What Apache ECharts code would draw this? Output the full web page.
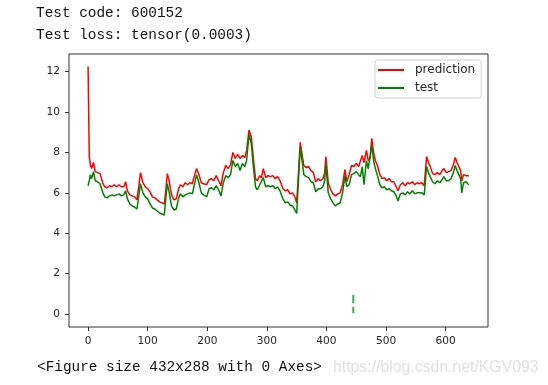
<!DOCTYPE html>
<html>
<head>
<meta charset="utf-8">
<script src="https://cdn.jsdelivr.net/npm/echarts@6/dist/echarts.min.js"></script>
<style>html,body{margin:0;padding:0;background:#fff}#c{width:548px;height:385px}</style>
</head>
<body>
<div id="c"></div>
<script>
const xIdx = [0,2,4,6,9,12,16,20,23,25,28,32,36,40,44,48,52,56,60,63,66,70,74,78,82,85,88,92,96,100,104,108,112,116,120,124,128,130,133,136,140,144,148,152,155,159,163,167,171,175,178,182,186,190,194,199,203,207,211,215,219,223,227,231,235,239,243,247,251,255,259,263,266,270,274,278,281,284,288,291,294,298,302,306,310,314,318,322,327,331,335,339,343,347,350,353,356,359,362,366,370,374,378,382,386,390,394,397,399,403,407,411,415,419,423,427,431,434,438,442,446,450,454,457,460,463,467,470,473,476,479,482,486,489,493,497,501,505,509,513,517,520,524,528,532,536,540,544,548,552,556,560,564,568,571,574,578,582,586,590,594,597,601,605,609,613,616,619,622,625,627,630,634,637,639];
const prediction = [12.25,7.8,7.35,7.2,7.5,7.05,7.0,6.95,7.0,6.45,6.3,6.25,6.35,6.3,6.4,6.3,6.4,6.3,6.3,6.55,6.1,5.9,5.85,5.8,5.65,5.6,7.0,6.5,6.3,6.2,6.05,5.8,5.75,5.65,5.55,5.5,5.45,6.0,6.95,6.6,5.9,5.65,5.7,6.2,6.4,6.3,6.5,6.4,6.5,6.45,6.8,7.2,6.9,6.5,6.45,6.4,6.65,6.7,6.6,6.85,6.6,6.35,7.0,7.35,7.2,7.4,8.0,7.7,7.9,7.7,7.85,7.75,8.1,9.1,8.75,7.5,6.7,6.6,6.85,6.75,7.2,6.75,6.85,6.8,6.85,6.7,6.8,6.6,6.2,6.1,6.15,5.95,6.0,5.8,5.5,7.0,8.5,7.9,7.35,7.25,7.3,7.1,7.0,6.55,6.7,6.6,6.7,7.0,7.8,6.5,6.15,5.95,5.85,5.95,6.0,6.4,7.15,6.55,6.9,7.35,7.3,7.45,7.3,7.25,7.85,7.5,8.1,7.6,7.7,8.7,8.0,7.6,7.3,6.95,6.7,6.75,6.6,6.7,6.55,6.55,6.3,6.1,6.4,6.5,6.35,6.5,6.45,6.55,6.4,6.5,6.45,6.5,6.35,7.8,7.5,7.3,6.95,6.9,7.0,6.9,7.1,7.2,7.0,7.05,7.1,7.4,7.75,7.5,7.3,7.1,6.6,6.9,6.85,6.9,6.85];
const test = [6.35,6.6,6.9,6.7,7.05,6.6,6.55,6.45,6.5,6.0,5.8,5.75,5.85,5.9,5.85,5.9,5.95,5.85,5.9,6.1,5.7,5.45,5.35,5.3,5.2,5.15,6.45,6.0,5.8,5.7,5.45,5.25,5.2,5.1,5.0,4.95,4.9,5.6,6.45,6.05,5.35,5.15,5.2,5.75,5.95,5.8,5.9,5.95,6.0,5.95,6.35,6.9,6.5,6.0,5.9,5.8,6.2,6.25,6.15,6.35,6.15,5.85,6.5,6.85,6.75,6.9,7.6,7.3,7.45,7.1,7.45,7.3,7.6,8.9,8.4,7.1,6.3,6.15,6.4,6.35,6.75,6.3,6.35,6.3,6.35,6.2,6.3,6.1,5.7,5.5,5.55,5.4,5.35,5.15,4.98,6.6,8.25,7.6,6.9,6.8,6.75,6.55,6.5,6.05,6.2,6.2,6.3,6.6,7.45,6.0,5.7,5.5,5.35,5.45,5.5,6.0,6.85,6.3,6.4,6.9,6.95,7.05,6.9,6.8,7.3,6.4,7.6,7.2,7.15,8.35,7.6,7.2,6.8,6.45,6.25,6.3,6.15,6.2,6.1,6.05,5.85,5.6,5.95,6.0,5.9,6.05,5.95,6.1,5.95,6.0,6.0,6.0,5.9,7.3,7.0,6.8,6.55,6.45,6.6,6.5,6.65,6.8,6.6,6.6,6.7,7.0,7.35,7.1,6.9,6.7,6.0,6.5,6.55,6.45,6.4];
const stray = [[445,0.05],[445,0.35],null,[445,0.55],[445,0.94]];
const xTicks = [0,100,200,300,400,500,600];
const yTicks = [0,2,4,6,8,10,12];
const seriesNames = ['prediction','test'];

const chart = echarts.init(document.getElementById('c'), null, {renderer:'canvas'});
const pair = arr => xIdx.map((x,i)=>[x,arr[i]]);
const monoFont = '14.4px "Liberation Mono", monospace';
chart.setOption({
  animation:false,
  backgroundColor:'#fff',
  grid:{left:69,right:60,top:54,bottom:58,show:true,borderColor:'#333',borderWidth:1,backgroundColor:'transparent'},
  xAxis:{type:'value',min:-32,max:671,
    axisLine:{show:false,onZero:false},splitLine:{show:false},
    axisTick:{show:true,inside:false,length:4,customValues:xTicks,lineStyle:{color:'#333'}},
    axisLabel:{customValues:xTicks,margin:9,color:'#262626',fontSize:10.6,fontFamily:'DejaVu Sans'}},
  yAxis:{type:'value',min:-0.64,max:12.87,
    axisLine:{show:false,onZero:false},splitLine:{show:false},
    axisTick:{show:true,inside:false,length:4,customValues:yTicks,lineStyle:{color:'#333'}},
    axisLabel:{customValues:yTicks,margin:9,color:'#262626',fontSize:10.6,fontFamily:'DejaVu Sans'}},
  legend:{orient:'vertical',left:375,top:60,data:seriesNames,icon:'rect',itemWidth:26,itemHeight:2,itemGap:6,
    padding:[4,6,4,3],borderColor:'#d0d0d0',borderWidth:1,borderRadius:3,backgroundColor:'#fff',
    textStyle:{fontFamily:'DejaVu Sans',fontSize:12,color:'#262626',padding:[0,0,0,6]}},
  series:[
    {name:'prediction',type:'line',data:pair(prediction),showSymbol:false,symbol:'none',lineStyle:{color:'#ff0000',width:1.5},itemStyle:{color:'#ff0000'}},
    {name:'test',type:'line',data:pair(test),showSymbol:false,symbol:'none',lineStyle:{color:'#008000',width:1.5},itemStyle:{color:'#008000'}},
    {name:'stray',type:'line',data:stray,showSymbol:false,symbol:'none',connectNulls:false,lineStyle:{color:'#3cb04a',width:2},itemStyle:{color:'#3cb04a'}}
  ],
  graphic:[
    {type:'text',left:36,top:6,style:{text:'Test code: 600152',font:monoFont,fill:'#111'}},
    {type:'text',left:36,top:28,style:{text:'Test loss: tensor(0.0003)',font:monoFont,fill:'#111'}},
    {type:'text',left:37,top:360,style:{text:'<Figure size 432x288 with 0 Axes>',font:monoFont,fill:'#111'}},
    {type:'text',left:333,top:360,style:{text:'https://blog.csdn.net/KGV093',font:'15.8px "Liberation Sans", Arial, sans-serif',fill:'#e0e0e0'}}
  ]
});
</script>
</body>
</html>
